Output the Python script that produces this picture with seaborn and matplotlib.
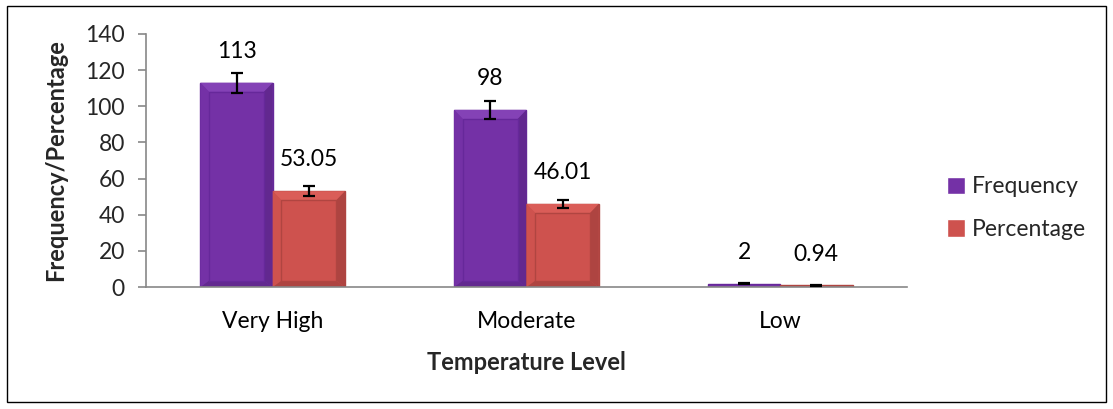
import matplotlib
matplotlib.use("Agg")
import matplotlib.pyplot as plt
import seaborn as sns
import pandas as pd
from matplotlib.patches import Rectangle, Polygon

categories = ["Very High", "Moderate", "Low"]
frequency = [113, 98, 2]
percentage = [53.05, 46.01, 0.94]
freq_err = [5.6, 4.9, 0.1]
pct_err = [2.6, 2.3, 0.05]
series = ["Frequency", "Percentage"]
yticks = [0, 20, 40, 60, 80, 100, 120, 140]

df = pd.DataFrame({
    "Temperature Level": categories * 2,
    "value": frequency + percentage,
    "series": [series[0]] * 3 + [series[1]] * 3,
})

sns.set_theme(style="white")
plt.rcParams["font.family"] = ["Lato", "DejaVu Sans"]

FS = 16.5
FSB = 17

fig = plt.figure(figsize=(11.13, 4.09), dpi=100)
ax = fig.add_axes([0.131, 0.298, 0.684, 0.619])

colors = {"Frequency": "#7431A6", "Percentage": "#CE524E"}
edges = {"Frequency": "#66289A", "Percentage": "#B04541"}
light = {"Frequency": "#8442B6", "Percentage": "#DA5D58"}
dark = {"Frequency": "#62288F", "Percentage": "#AE4441"}
sns.barplot(data=df, x="Temperature Level", y="value", hue="series",
            palette=colors, width=0.57, gap=0, errorbar=None, ax=ax,
            linewidth=1.0, saturation=1)

errs = {"Frequency": freq_err, "Percentage": pct_err}
vals = {"Frequency": frequency, "Percentage": percentage}
for cont, s in zip(ax.containers, series):
    for bar, v, e in zip(cont, vals[s], errs[s]):
        bar.set_edgecolor(edges[s])
        x0 = bar.get_x()
        w, h = bar.get_width(), bar.get_height()
        x1 = x0 + w
        xc = x0 + w / 2
        if h > 5:
            dx = w * 0.12
            dy = 5.0
            ix0, ix1, iy0, iy1 = x0 + dx, x1 - dx, dy * 0.7, h - dy
            bands = [
                ([(x0, h), (x1, h), (ix1, iy1), (ix0, iy1)], light[s]),
                ([(x0, 0), (x0, h), (ix0, iy1), (ix0, iy0)], colors[s]),
                ([(x1, 0), (x1, h), (ix1, iy1), (ix1, iy0)], dark[s]),
                ([(x0, 0), (x1, 0), (ix1, iy0), (ix0, iy0)], dark[s]),
            ]
            for pts, c in bands:
                ax.add_patch(Polygon(pts, closed=True, facecolor=c, edgecolor="none",
                                     zorder=bar.get_zorder() + 0.1))
            ax.add_patch(Rectangle((ix0, iy0), ix1 - ix0, iy1 - iy0, facecolor=colors[s],
                                   edgecolor=edges[s], linewidth=1.0,
                                   zorder=bar.get_zorder() + 0.2))
        ax.errorbar(xc, v, yerr=e, fmt="none", ecolor="black", elinewidth=1.6,
                    capsize=4.5, capthick=1.6, zorder=5)
        ax.annotate(f"{v:g}" if s == "Frequency" else f"{v:.2f}", (xc, v),
                    xytext=(0, 15), textcoords="offset points", ha="center",
                    va="bottom", fontsize=FS, color="black")

ax.set_ylim(0, 140)
ax.set_xlim(-0.5, 2.5)
ax.set_yticks(yticks)
ax.set_yticklabels([str(t) for t in yticks], fontsize=FS)
ax.set_xticks(range(3))
ax.set_xticklabels(categories, fontsize=FS)
ax.set_xticks([-0.5, 0.5, 1.5, 2.5], minor=True)
ax.tick_params(axis="x", which="major", length=0, pad=17, colors="black")
ax.tick_params(axis="x", which="minor", length=6, color="#888888", width=1.2)
ax.tick_params(axis="y", length=6, color="#888888", width=1.2, left=True, pad=9)
for sp in ["top", "right"]:
    ax.spines[sp].set_visible(False)
for sp in ["left", "bottom"]:
    ax.spines[sp].set_color("#888888")
    ax.spines[sp].set_linewidth(1.2)

ax.set_xlabel("Temperature Level", fontsize=FSB, fontweight="bold", labelpad=14)
ax.set_ylabel("Frequency/Percentage", fontsize=FSB, fontweight="bold", labelpad=13)

leg = ax.legend(loc="center left", bbox_to_anchor=(1.025, 0.312), frameon=False,
                fontsize=FS, handlelength=0.8, handleheight=0.8, handletextpad=0.3,
                labelspacing=0.95, title=None)

fig.patches.append(Rectangle((0.0063, 0.017), 0.987, 0.968, transform=fig.transFigure,
                             fill=False, edgecolor="black", linewidth=1.0))

fig.savefig("out.png", dpi=100)
